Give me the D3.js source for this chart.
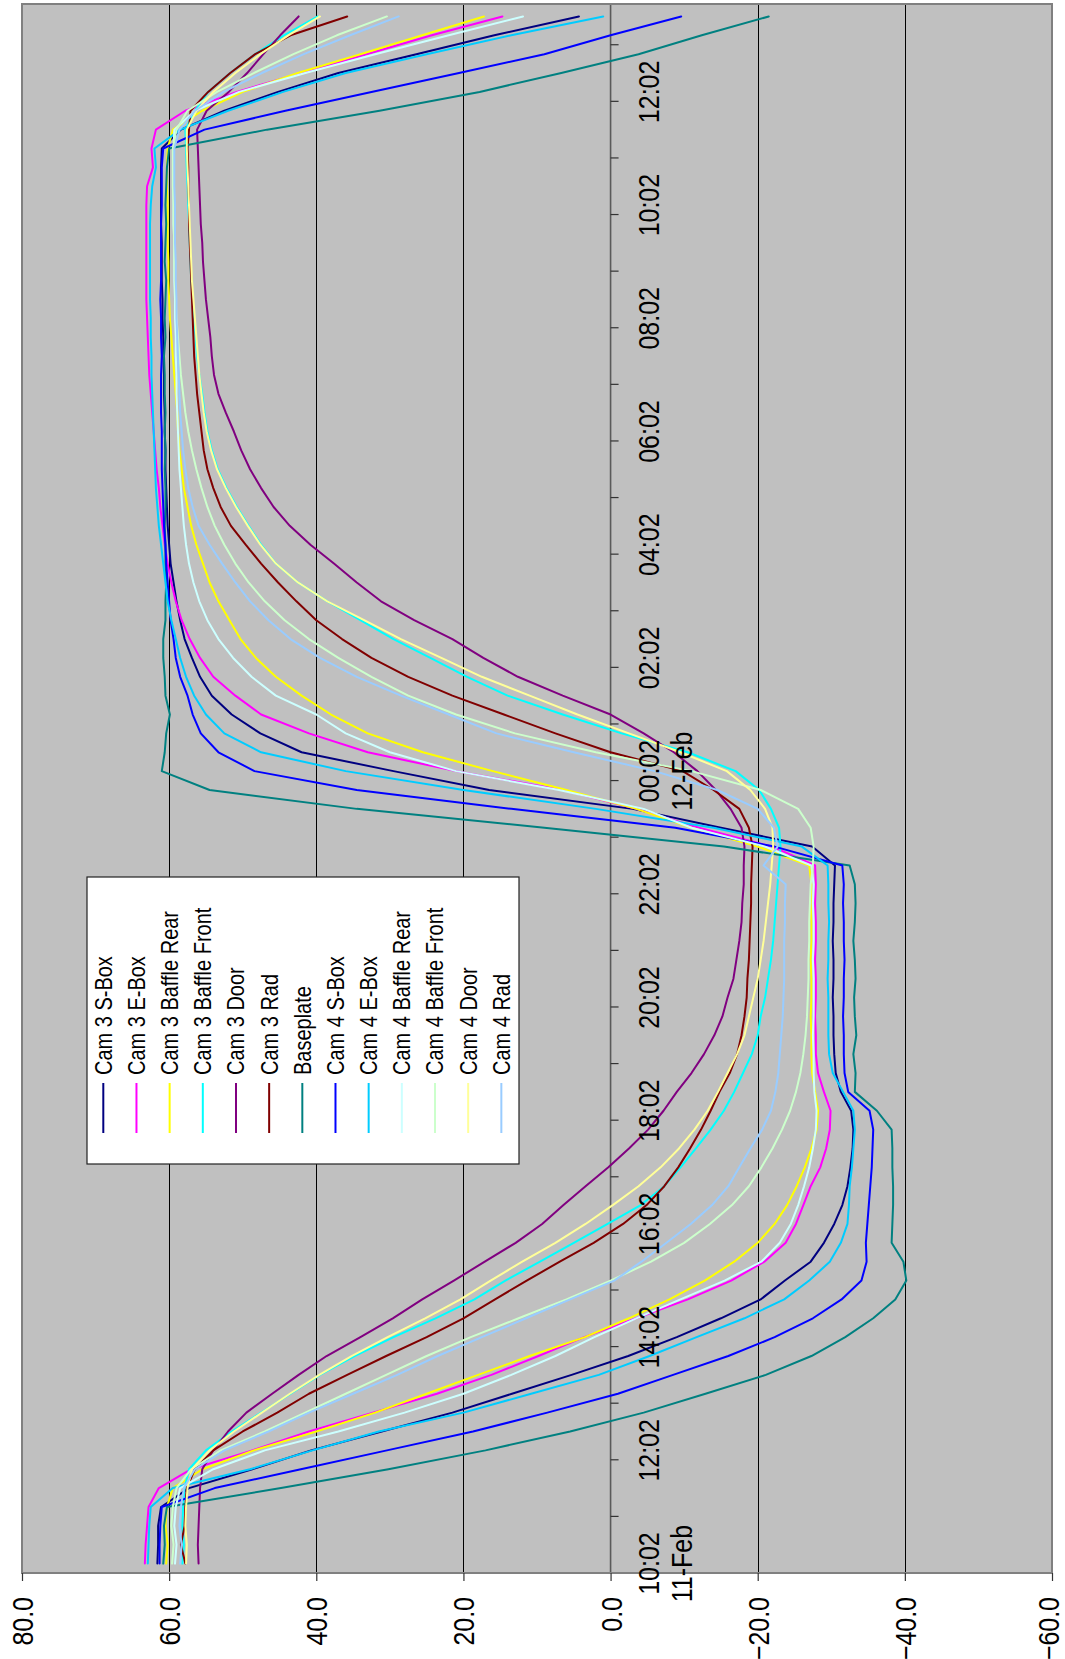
<!DOCTYPE html>
<html>
<head>
<meta charset="utf-8">
<script src="https://cdn.jsdelivr.net/npm/d3@7"></script>
<style>
html,body{margin:0;padding:0;background:#ffffff;}
svg{display:block;}
text{font-family:"Liberation Sans",Arial,Helvetica,sans-serif;fill:#000;}
</style>
</head>
<body>
<div id="chart"></div>
<script>
// ---------------- DATA ----------------
const times = [
 "10:02","10:22","10:42","11:02","11:22","11:42","12:02","12:22","12:42","13:02","13:22","13:42",
 "14:02","14:22","14:42","15:02","15:22","15:42","16:02","16:22","16:42","17:02","17:22","17:42",
 "18:02","18:22","18:42","19:02","19:22","19:42","20:02","20:22","20:42","21:02","21:22","21:42",
 "22:02","22:22","22:42","23:02","23:22","23:42",
 "00:02","00:22","00:42","01:02","01:22","01:42","02:02","02:22","02:42","03:02","03:22","03:42",
 "04:02","04:22","04:42","05:02","05:22","05:42","06:02","06:22","06:42","07:02","07:22","07:42",
 "08:02","08:22","08:42","09:02","09:22","09:42","10:02","10:22","10:42","11:02","11:22","11:42",
 "12:02","12:22","12:42","13:02","13:22"
];
const dateLabelIndex = [0, 42];
const dateLabelText = ["11-Feb", "12-Feb"];
const valueTicks = [80, 60, 40, 20, 0, -20, -40, -60];
const gridValues = [60, 40, 20, -20, -40];

const seriesNames = ["Cam 3 S-Box","Cam 3 E-Box","Cam 3 Baffle Rear","Cam 3 Baffle Front","Cam 3 Door","Cam 3 Rad",
  "Baseplate","Cam 4 S-Box","Cam 4 E-Box","Cam 4 Baffle Rear","Cam 4 Baffle Front","Cam 4 Door","Cam 4 Rad"];
const seriesColors = ["#000080","#FF00FF","#FFFF00","#00FFFF","#800080","#800000",
  "#008080","#0000FF","#00CCFF","#CCFFFF","#CCFFCC","#FFFF99","#99CCFF"];

const cam3SBox = [61.6,61.5,61.5,61.1,57.3,48.7,40.7,31.1,21.5,13.4,
 5.3,-2.4,-9.0,-15.0,-20.4,-23.7,-27.2,-29.0,-30.4,-31.5,
 -32.2,-32.6,-32.9,-33.0,-32.7,-31.3,-30.6,-30.4,-30.3,-30.3,
 -30.2,-30.3,-30.3,-30.2,-30.3,-30.3,-30.4,-30.5,-27.4,-15.0,
 -3.0,16.5,29.5,42.0,47.6,51.5,54.2,55.8,56.9,57.9,
 58.5,59.0,59.4,59.8,60.0,60.2,60.3,60.4,60.5,60.5,
 60.6,60.6,60.7,60.7,60.8,60.8,60.9,60.9,61.0,61.0,
 61.0,61.1,61.1,61.1,61.1,61.0,58.4,52.5,45.2,37.0,
 26.4,15.8,4.3];
const cam3EBox = [63.3,63.2,63.0,62.8,61.4,57.0,48.7,41.0,32.3,23.6,
 16.2,9.8,3.6,-3.5,-10.5,-16.4,-20.9,-23.8,-25.2,-26.2,
 -27.2,-28.5,-29.3,-29.8,-29.9,-29.0,-28.2,-27.9,-27.9,-27.8,
 -27.9,-27.9,-27.8,-27.9,-27.9,-27.8,-27.9,-27.8,-22.0,-12.0,
 -3.5,6.5,21.0,33.0,41.0,47.5,51.0,54.0,55.8,57.2,
 58.3,59.1,59.7,60.2,60.6,60.9,61.2,61.4,61.7,61.9,
 62.1,62.3,62.5,62.7,62.8,62.9,63.0,63.1,63.1,63.1,
 63.1,63.1,63.1,63.0,62.2,62.4,61.8,57.8,50.8,42.0,
 33.2,24.3,14.7];
const cam3BaffleRear = [60.4,60.2,60.5,60.3,59.5,55.5,48.5,40.0,32.0,25.0,
 18.0,11.0,3.5,-2.5,-8.0,-12.8,-16.8,-20.0,-22.3,-24.0,
 -25.3,-26.4,-27.3,-28.0,-28.2,-27.8,-27.4,-27.3,-27.3,-27.2,
 -27.3,-27.3,-27.2,-27.3,-27.3,-27.2,-27.3,-27.0,-20.0,-11.0,
 -3.5,6.0,16.0,25.5,33.0,38.0,42.0,45.5,48.2,50.3,
 51.8,53.3,54.5,55.4,56.3,57.0,57.5,58.0,58.3,58.6,
 58.8,58.9,59.1,59.3,59.5,59.7,59.9,60.0,60.1,60.1,
 60.2,60.2,60.2,60.3,60.3,60.2,59.5,55.5,50.0,42.5,
 34.0,25.6,17.2];
const cam3BaffleFront = [58.2,58.0,58.2,58.1,57.9,57.3,55.0,51.5,47.5,43.5,
 39.5,34.8,29.5,23.8,18.5,14.3,9.6,5.0,0.4,-4.1,
 -7.3,-9.5,-11.6,-13.6,-15.4,-16.8,-18.0,-19.2,-20.0,-20.4,
 -21.0,-21.4,-21.8,-22.1,-22.3,-22.5,-22.7,-22.9,-23.1,-22.9,
 -21.8,-20.2,-17.0,-10.5,-1.5,6.5,14.0,19.5,24.5,29.5,
 34.0,38.5,42.5,45.5,47.5,49.2,50.8,52.2,53.4,54.2,
 54.8,55.2,55.5,55.9,56.2,56.4,56.6,56.8,57.0,57.1,
 57.2,57.3,57.4,57.5,57.6,57.7,57.8,56.5,54.7,51.7,
 48.3,44.4,39.8];
const cam3Door = [56.0,56.1,56.0,55.9,55.8,55.5,54.0,52.0,49.5,46.0,
 42.4,38.6,34.0,29.6,25.6,21.3,17.1,12.9,9.3,6.4,
 3.4,0.3,-2.5,-5.1,-7.2,-9.0,-11.0,-12.7,-14.1,-15.2,
 -15.9,-16.7,-17.1,-17.5,-17.8,-17.9,-18.1,-18.1,-18.2,-17.8,
 -16.3,-14.3,-11.8,-8.6,-4.5,0.0,6.5,12.6,17.3,21.5,
 26.7,31.2,34.5,37.6,40.8,43.6,45.8,47.5,49.0,50.2,
 51.2,52.3,53.3,53.9,54.2,54.4,54.7,55.0,55.2,55.4,
 55.5,55.7,55.8,55.9,56.0,56.1,56.2,54.9,51.9,49.4,
 47.2,44.9,42.4];
const cam3Rad = [57.8,58.4,57.9,57.8,57.6,56.5,54.0,50.0,45.3,41.0,
 35.8,30.5,25.0,20.0,15.7,11.4,6.9,2.3,-1.7,-4.9,
 -7.3,-9.2,-10.8,-12.3,-13.6,-14.8,-16.2,-17.2,-17.8,-18.2,
 -18.5,-18.6,-18.8,-18.9,-19.0,-19.1,-19.1,-19.2,-19.3,-18.8,
 -17.5,-14.0,-9.8,0.0,7.5,14.5,21.5,27.5,32.5,36.5,
 40.0,42.7,45.2,47.5,49.6,51.6,53.0,54.0,54.8,55.3,
 55.6,55.9,56.2,56.4,56.6,56.7,56.8,56.9,57.0,57.1,
 57.2,57.3,57.3,57.4,57.4,57.5,57.3,57.1,54.7,51.7,
 48.3,43.5,35.8];
const baseplate = [60.8,60.6,60.7,60.3,44.8,30.2,17.0,5.5,-4.5,-12.9,
 -21.1,-27.3,-31.9,-35.7,-38.7,-40.2,-39.8,-38.2,-38.3,-38.4,
 -38.4,-38.3,-38.3,-38.2,-36.2,-33.2,-33.3,-33.0,-33.4,-33.2,
 -33.1,-33.3,-33.2,-33.0,-33.2,-33.3,-33.2,-32.5,-15.4,9.0,
 34.5,54.5,61.0,60.6,60.4,59.9,60.5,60.6,60.8,60.8,
 60.5,60.5,60.4,60.5,60.5,60.6,60.5,60.5,60.6,60.5,
 60.6,60.5,60.6,60.6,60.7,60.5,60.6,60.5,60.4,60.6,
 60.5,60.4,60.5,60.4,60.3,60.0,46.7,31.4,17.8,6.7,
 -3.8,-12.4,-21.5];
const cam4SBox = [61.3,61.3,61.2,61.0,53.8,42.1,30.4,18.7,8.6,-1.0,
 -8.5,-16.0,-22.3,-27.5,-31.4,-34.1,-34.8,-34.7,-34.9,-35.1,
 -35.3,-35.5,-35.6,-35.7,-35.2,-32.3,-31.8,-31.7,-31.7,-31.6,
 -31.7,-31.7,-31.8,-31.7,-31.7,-31.6,-31.7,-31.5,-22.3,-8.8,
 13.5,34.5,48.4,53.3,55.7,56.8,57.5,58.5,59.1,59.4,
 59.8,60.0,60.2,60.4,60.5,60.7,60.8,60.9,61.0,61.0,
 61.0,61.1,61.1,61.1,61.0,61.1,61.1,61.2,61.1,61.1,
 61.1,61.1,61.0,61.0,61.0,60.8,55.2,44.2,32.5,20.6,
 9.0,0.0,-9.6];
const cam4EBox = [62.9,62.8,62.7,62.5,59.5,49.0,40.5,31.5,20.0,10.8,
 1.6,-5.3,-11.7,-18.2,-23.6,-27.0,-29.8,-31.3,-32.2,-32.4,
 -32.5,-32.8,-33.0,-33.2,-33.0,-31.6,-30.2,-29.7,-29.6,-29.6,
 -29.6,-29.5,-29.6,-29.6,-29.7,-29.6,-29.6,-29.5,-26.0,-14.0,
 2.0,20.0,36.0,47.5,52.5,55.0,56.6,57.7,58.5,59.1,
 59.7,60.2,60.5,60.8,61.1,61.4,61.6,61.8,61.9,62.0,
 62.1,62.2,62.3,62.4,62.4,62.5,62.5,62.6,62.6,62.6,
 62.6,62.6,62.5,62.3,61.8,62.0,58.5,52.0,44.5,36.0,
 25.0,13.5,1.0];
const cam4BaffleRear = [59.2,59.0,59.3,59.1,58.5,54.0,47.0,37.0,28.0,20.0,
 13.5,7.5,2.2,-3.5,-9.5,-15.5,-20.5,-23.0,-24.5,-25.5,
 -26.3,-27.0,-27.5,-27.9,-28.0,-27.7,-27.6,-27.6,-27.5,-27.6,
 -27.6,-27.6,-27.5,-27.6,-27.6,-27.5,-27.6,-27.3,-21.0,-11.0,
 -4.5,7.0,21.0,30.0,36.0,40.0,45.5,48.8,51.3,53.3,
 54.8,55.9,56.7,57.3,57.7,58.0,58.2,58.4,58.6,58.7,
 58.8,58.9,59.0,59.0,59.1,59.1,59.2,59.2,59.3,59.3,
 59.3,59.4,59.4,59.4,59.4,59.4,59.3,56.5,50.5,41.5,
 32.0,22.0,11.9];
const cam4BaffleFront = [59.6,59.4,59.7,59.5,59.0,57.0,53.0,47.0,41.5,36.0,
 30.5,25.0,19.0,12.5,6.0,0.0,-5.5,-10.0,-13.5,-16.5,
 -18.8,-20.5,-22.0,-23.3,-24.4,-25.2,-25.8,-26.2,-26.5,-26.7,
 -26.8,-26.9,-26.9,-27.0,-27.0,-27.1,-27.2,-27.5,-27.6,-27.2,
 -25.5,-20.4,-11.0,2.0,13.0,21.0,27.5,32.5,37.0,41.0,
 44.3,47.0,49.2,51.0,52.5,53.8,54.8,55.6,56.3,56.9,
 57.4,57.8,58.1,58.4,58.6,58.8,59.0,59.1,59.2,59.3,
 59.3,59.4,59.4,59.5,59.5,59.5,59.0,57.5,53.5,48.5,
 43.1,37.2,30.4];
const cam4Door = [57.7,57.6,57.8,57.7,57.5,56.9,54.5,51.2,47.4,43.6,
 39.6,35.2,30.3,25.2,20.4,16.3,12.0,7.5,3.4,-0.3,
 -3.8,-6.8,-9.3,-11.4,-13.2,-14.6,-15.9,-17.2,-18.2,-18.8,
 -19.4,-20.0,-20.4,-20.8,-21.1,-21.4,-21.7,-21.9,-22.1,-22.0,
 -21.0,-19.0,-15.8,-9.5,-2.5,4.5,11.0,17.5,23.0,28.5,
 33.5,38.5,42.5,45.5,47.6,49.3,50.9,52.3,53.5,54.3,
 54.9,55.3,55.6,55.9,56.1,56.3,56.5,56.7,56.9,57.0,
 57.1,57.2,57.3,57.4,57.5,57.6,57.6,56.3,54.0,51.0,
 47.6,43.8,39.5];
const cam4Rad = [58.5,58.3,58.6,58.4,58.0,56.5,52.5,46.5,41.0,35.0,
 29.0,23.5,17.5,11.5,5.5,-0.5,-4.2,-7.6,-10.9,-13.8,
 -16.0,-17.5,-19.0,-20.6,-21.8,-22.4,-22.8,-23.0,-23.2,-23.4,
 -23.5,-23.6,-23.6,-23.6,-23.7,-23.7,-23.8,-20.8,-22.7,-22.2,
 -20.0,-14.5,-6.0,5.0,15.5,22.0,28.5,34.5,39.5,43.5,
 46.5,49.0,51.0,52.8,54.5,56.0,56.8,57.4,57.8,58.1,
 58.3,58.5,58.6,58.7,58.8,58.9,59.0,59.0,59.1,59.1,
 59.2,59.2,59.2,59.3,59.3,59.3,58.6,56.5,52.6,47.4,
 41.7,35.4,28.8];

const seriesValues = [cam3SBox, cam3EBox, cam3BaffleRear, cam3BaffleFront, cam3Door, cam3Rad,
  baseplate, cam4SBox, cam4EBox, cam4BaffleRear, cam4BaffleFront, cam4Door, cam4Rad];

// ---------------- LAYOUT ----------------
const W = 1065, H = 1659;
const plotLeft = 22, plotBottom = 1573;     // page position of the (80, first-category) corner
const timeLen = 1569, valueLen = 1030;      // plot extent along time / value
const stretch = 1.17;                       // glyph stretch of the original picture

const svg = d3.select("#chart").append("svg")
  .attr("width", W).attr("height", H)
  .attr("viewBox", `0 0 ${W} ${H}`);
svg.append("rect").attr("width", W).attr("height", H).attr("fill", "#fff");

// the whole chart is drawn upright and then turned a quarter turn
const g = svg.append("g").attr("transform", `translate(${plotLeft},${plotBottom}) rotate(-90)`);

const x = d3.scaleBand().domain(d3.range(times.length)).range([0, 1566]).paddingInner(0).paddingOuter(0);
const y = d3.scaleLinear().domain([80, -60]).range([0, valueLen]);
const cx = i => x(i) + x.bandwidth() / 2;
const snap = v => Math.round(v) + 0.5;

// plot area
g.append("rect").attr("x", 0).attr("y", 0).attr("width", timeLen).attr("height", valueLen)
  .attr("fill", "#C0C0C0");

// gridlines
g.selectAll("line.grid").data(gridValues).join("line").attr("class", "grid")
  .attr("x1", 0).attr("x2", timeLen)
  .attr("y1", d => snap(y(d))).attr("y2", d => snap(y(d)))
  .attr("stroke", "#000").attr("stroke-width", 1);

// category axis line at 0
const y0 = y(0);
g.append("line").attr("x1", 0).attr("x2", timeLen).attr("y1", y0).attr("y2", y0)
  .attr("stroke", "#5a5a5a").attr("stroke-width", 1.6);

// category tick marks every 3 categories, at category boundaries
const tickIdx = d3.range(0, times.length, 3);
g.selectAll("line.ctick").data(tickIdx).join("line").attr("class", "ctick")
  .attr("x1", d => x(d)).attr("x2", d => x(d))
  .attr("y1", y0).attr("y2", y0 + 8)
  .attr("stroke", "#333").attr("stroke-width", 1.2);

// series
const line = d3.line().x((d, i) => cx(i)).y(d => y(d));
seriesValues.forEach((vals, k) => {
  g.append("path").datum(vals)
    .attr("d", line)
    .attr("fill", "none")
    .attr("stroke", seriesColors[k])
    .attr("stroke-width", 2)
    .attr("stroke-linejoin", "round")
    .attr("stroke-linecap", "round");
});

// plot border
g.append("rect").attr("x", 0).attr("y", 0).attr("width", timeLen).attr("height", valueLen)
  .attr("fill", "none").attr("stroke", "#808080").attr("stroke-width", 2);

// category labels (every 6 categories)
const labelIdx = d3.range(0, times.length, 6);
const catLab = g.selectAll("g.clab").data(labelIdx).join("g").attr("class", "clab")
  .attr("transform", d => `translate(${cx(d)},${y0 + 48.5}) scale(1,${stretch})`);
catLab.append("text").attr("text-anchor", "middle").attr("font-size", 25).text(d => times[d]);
catLab.filter(d => dateLabelIndex.includes(d)).append("text")
  .attr("text-anchor", "middle").attr("font-size", 25)
  .attr("y", 33 / stretch)
  .text(d => dateLabelText[dateLabelIndex.indexOf(d)]);

// value axis (left in the upright chart, i.e. along the bottom of the page)
const yAxis = d3.axisLeft(y).tickValues(valueTicks).tickSize(8).tickPadding(16).tickFormat(d3.format(".1f"));
const ya = g.append("g").call(yAxis);
ya.select(".domain").remove();
ya.selectAll(".tick line").attr("stroke", "#333").attr("stroke-width", 1.2);
ya.selectAll(".tick text")
  .attr("font-size", 25)
  .attr("font-family", "\"Liberation Sans\",Arial,sans-serif")
  .attr("fill", "#000")
  .attr("x", -24)
  .attr("dy", "0.358em")
  .attr("transform", d => `translate(0,${d === -60 ? -4 : 0}) scale(1,${stretch})`);

// legend
const lgX = 409, lgY = 65, lgW = 287, lgH = 432;
const legend = g.append("g");
legend.append("rect").attr("x", lgX).attr("y", lgY).attr("width", lgW).attr("height", lgH)
  .attr("fill", "#fff").attr("stroke", "#222").attr("stroke-width", 1.2);
const items = legend.selectAll("g.item").data(seriesNames).join("g").attr("class", "item")
  .attr("transform", (d, k) => `translate(0,${81.3 + 33.17 * k})`);
items.append("line").attr("x1", 440).attr("x2", 490).attr("y1", 0).attr("y2", 0)
  .attr("stroke", (d, k) => seriesColors[k]).attr("stroke-width", 2);
items.append("text")
  .attr("transform", `translate(498,0) scale(1,${stretch})`)
  .attr("dy", "0.358em").attr("font-size", 20)
  .text(d => d);
</script>
</body>
</html>
